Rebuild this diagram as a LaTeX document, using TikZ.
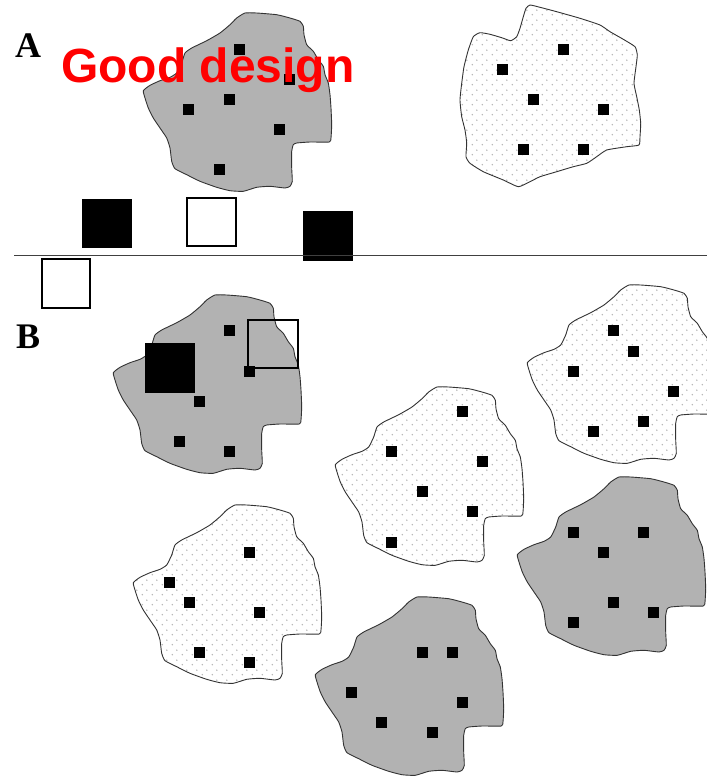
\documentclass[tikz,border=0pt]{standalone}
\usepackage{fontspec}
\setmainfont{Liberation Serif}
\setsansfont{Liberation Sans}
\usetikzlibrary{patterns.meta}
\tikzdeclarepattern{
  name=sparsedots,
  type=uncolored,
  bottom left={(0pt,0pt)},
  top right={(10pt,10pt)},
  tile size={(10pt,10pt)},
  code={
    \pgfpathcircle{\pgfqpoint{2.5pt}{2.5pt}}{0.85pt}
    \pgfpathcircle{\pgfqpoint{7.5pt}{7.5pt}}{0.85pt}
    \pgfusepath{fill}
  }
}
\tikzset{
  grayblob/.style={fill=black!30, draw=black!80, line width=0.9pt, line join=round},
  dotblob/.style={preaction={fill=white}, pattern=sparsedots, pattern color=black!30, draw=black!80, line width=0.9pt, line join=round},
  sq/.pic={\fill (-5.5,-5.5) rectangle (5.5,5.5);},
  bigblack/.style={fill=black},
  bigwhite/.style={draw=black, line width=1.6pt, fill=white},
  panel/.style={font=\fontsize{36}{36}\selectfont\bfseries, anchor=base west, inner sep=0pt},
}
\newcommand\blobpath{plot[smooth cycle, tension=0.3] coordinates {
(113.3,372.7) (120,367.3) (130,362.7) (140,359.3) (146.7,355) (151.7,345) (155,335)
(161.7,330) (176.7,322.7) (190,315) (200,306.7) (206.7,300) (215,295) (226.7,295)
(246.7,296.7) (260,300) (270,303.3) (273.3,308.3) (274,316.7) (276.7,326.7) (283.3,333.3)
(288.3,341.7) (293.3,348.3) (295,356.7) (298.3,365) (300,376.7) (301,390) (301.7,406.7)
(301,420) (299.3,424) (280,424) (266.7,425) (263.3,426.7) (261.7,433.3) (261.7,450)
(262.3,463.3) (260,468.3) (255,470) (240,468.3) (226.7,469.3) (213.3,473.3) (200,472.7)
(186.7,469.3) (170,463.3) (156.7,456.7) (145,450.7) (141.7,443.3) (140,430) (136.7,420)
(130,410) (123.3,400) (118.3,390) (115,380)}}
\newcommand\blobApath{plot[smooth cycle, tension=0.3] coordinates {
(530,5) (540,7.3) (556.7,11.7) (580,18.3) (600,25) (610,31.7) (623.3,39.3) (635,46.7)
(637.3,55) (636,66.7) (634,83.3) (636.7,96.7) (639.3,110) (640.7,123.3) (640,136.7)
(639,145) (626.7,146.7) (606.7,150) (596.7,156.7) (586.7,163.3) (573.3,166.7) (556.7,171.7)
(540,176.7) (530,181.7) (518.3,186.7) (503.3,180) (483.3,171.7) (470,163.3) (466,156.7)
(466.7,143.3) (465,130) (461.7,116.7) (460,100) (461.7,83.3) (464,66.7) (468.3,50)
(473.3,36.7) (480,32.7) (490,34.3) (501.7,37.7) (510.7,40.7) (516.7,36.7) (520,28.3)
(523.3,16.7) (526,8.3)}}
\begin{document}
\begin{tikzpicture}[x=1pt,y=-1pt]
\useasboundingbox (0,0) rectangle (707,777);
\clip (0,0) rectangle (707,777);
\fill[white] (0,0) rectangle (707,777);

% ---------- Panel A ----------
\begin{scope}[shift={(30,-282)}]
  \path[grayblob] \blobpath;
\end{scope}
\foreach \x/\y in {239/49, 289/79, 229/99, 188/109, 279/129, 219/169}
  \pic at (\x,\y) {sq};
\path[dotblob] \blobApath;
\foreach \x/\y in {563/49, 502/69, 533/99, 603/109, 523/149, 583/149}
  \pic at (\x,\y) {sq};

\node[panel] (lblA) at (15,57) {A};
\node[anchor=base west, inner sep=0pt, text=red,
      font=\fontsize{48}{48}\selectfont\sffamily\bfseries] (gd) at (61,82) {Good design};

\path[bigblack] (82,199) rectangle (132,248);
\path[bigwhite] (187,198) rectangle (236,246);
\path[bigblack] (303,211) rectangle (353,261);
\coordinate (lineL) at (14,255);
\coordinate (lineR) at (707,255);
\draw[black!75, line width=0.9pt] (lineL) -- (lineR);
\path[bigwhite] (42,259) rectangle (90,308);

% ---------- Panel B ----------
\node[panel] (lblB) at (16,348) {B};

% gray blob with big squares
\path[grayblob] \blobpath;
\foreach \x/\y in {229/330, 249/371, 199/401, 179/441, 229/451}
  \pic at (\x,\y) {sq};
\path[bigblack] (145,343) rectangle (195,393);
\draw[black, line width=1.4pt] (248,320) rectangle (298,368);

% center dotted
\begin{scope}[shift={(222,92)}]
  \path[dotblob] \blobpath;
\end{scope}
\foreach \x/\y in {462/411, 391/451, 482/461, 422/491, 472/511, 391/542}
  \pic at (\x,\y) {sq};

% top-right dotted
\begin{scope}[shift={(414,-10)}]
  \path[dotblob] \blobpath;
\end{scope}
\foreach \x/\y in {613/330, 633/351, 573/371, 673/391, 643/421, 593/431}
  \pic at (\x,\y) {sq};

% right gray
\begin{scope}[shift={(404,182)}]
  \path[grayblob] \blobpath;
\end{scope}
\foreach \x/\y in {573/532, 643/532, 603/552, 613/602, 653/612, 573/622}
  \pic at (\x,\y) {sq};

% bottom-left dotted
\begin{scope}[shift={(20,210)}]
  \path[dotblob] \blobpath;
\end{scope}
\foreach \x/\y in {249/552, 169/582, 189/602, 259/612, 199/652, 249/662}
  \pic at (\x,\y) {sq};

% bottom gray
\begin{scope}[shift={(202,302)}]
  \path[grayblob] \blobpath;
\end{scope}
\foreach \x/\y in {422/652, 452/652, 351/692, 462/702, 381/722, 432/732}
  \pic at (\x,\y) {sq};
\end{tikzpicture}
\end{document}
